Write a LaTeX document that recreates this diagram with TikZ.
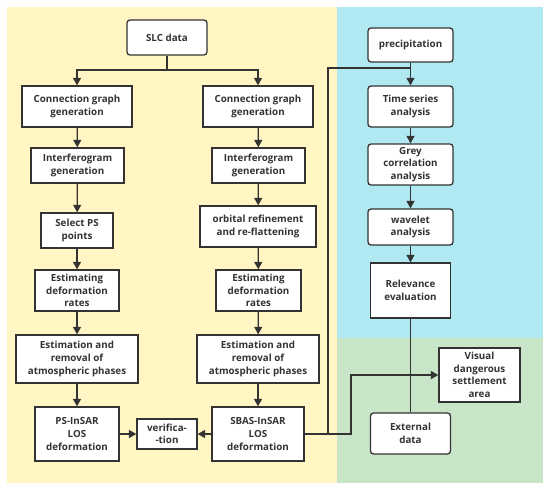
\documentclass[tikz,border=0pt]{standalone}
\usepackage{fontspec}
\setmainfont{Open Sans}
\usetikzlibrary{arrows.meta}
\definecolor{bgyellow}{HTML}{FFF6C4}
\definecolor{bgblue}{HTML}{B0E9F1}
\definecolor{bggreen}{HTML}{C8E5C8}
\definecolor{ink}{HTML}{333333}
\tikzset{
  box/.style={draw=ink, line width=1.3pt, fill=white, align=center, inner sep=1pt,
    text=ink, font=\fontsize{9.8}{12.6}\selectfont\bfseries},
  rbox/.style={box, rounded corners=3pt},
  conn/.style={draw=ink, line width=1.3pt},
  arr/.style={conn, -{Triangle[length=7.5pt,width=8pt]}},
}
\begin{document}
\begin{tikzpicture}[x=1pt,y=-1pt]
\useasboundingbox (0,0) rectangle (550,489);
\fill[white] (0,0) rectangle (550,489);
\fill[bgyellow] (7,7) rectangle (337,483);
\fill[bgblue] (337,7) rectangle (543,338);
\fill[bggreen] (337,338) rectangle (543,483);

\node[rbox, minimum width=80pt, minimum height=35pt] (slc) at (167,37.5) {SLC data};
\node[box, minimum width=110pt, minimum height=41pt] (cg1) at (77,106.5) {Connection graph\\generation};
\node[box, minimum width=110pt, minimum height=41pt] (cg2) at (258,106.5) {Connection graph\\generation};
\node[box, minimum width=93pt, minimum height=35pt] (if1) at (77.5,165.5) {Interferogram\\generation};
\node[box, minimum width=93pt, minimum height=35pt] (if2) at (258.5,165.5) {Interferogram\\generation};
\node[box, minimum width=72pt, minimum height=35pt] (sel) at (77,230.5) {Select PS\\points};
\node[box, minimum width=116pt, minimum height=41pt] (orb) at (258,226.5) {orbital refinement\\and re-flattening};
\node[box, minimum width=84pt, minimum height=41pt] (ed1) at (77,290.5) {Estimating\\deformation\\rates};
\node[box, minimum width=85pt, minimum height=41pt] (ed2) at (258.5,290.5) {Estimating\\deformation\\rates};
\node[box, minimum width=122pt, minimum height=48pt] (er1) at (77,359) {Estimation and\\removal of\\atmospheric phases};
\node[box, minimum width=122pt, minimum height=48pt] (er2) at (258,359) {Estimation and\\removal of\\atmospheric phases};
\node[box, minimum width=84pt, minimum height=54pt] (ps) at (77,434) {PS-InSAR\\LOS\\deformation};
\node[box, minimum width=60pt, minimum height=30pt] (ver) at (167,434) {verifica-\\-tion};
\node[box, minimum width=92pt, minimum height=54pt] (sbas) at (258,434) {SBAS-InSAR\\LOS\\deformation};

\node[rbox, minimum width=85pt, minimum height=34pt] (pre) at (410.5,45) {precipitation};
\node[rbox, minimum width=85pt, minimum height=41pt] (ts) at (410.5,106.5) {Time series\\analysis};
\node[rbox, minimum width=85pt, minimum height=41pt] (gc) at (410.5,164.5) {Grey\\correlation\\analysis};
\node[rbox, minimum width=85pt, minimum height=36pt] (wav) at (410.5,227) {wavelet\\analysis};
\node[box, minimum width=80pt, minimum height=55pt] (rel) at (410.5,290.5) {Relevance\\evaluation};
\node[box, minimum width=81pt, minimum height=54pt] (vis) at (479.5,375) {Visual\\dangerous\\settlement\\area};
\node[rbox, minimum width=80pt, minimum height=41pt] (ext) at (410.5,433.5) {External\\data};

\coordinate (j) at (167,70);
\coordinate (j2) at (328,434);
\coordinate (j3) at (410.5,68);
\coordinate (j4) at (351,434);

\draw[conn] (slc) -- (j);
\draw[arr] (j) -| (cg1);
\draw[arr] (j) -| (cg2);
\draw[arr] (cg1) -- (if1);
\draw[arr] (if1) -- (sel);
\draw[arr] (sel) -- (ed1);
\draw[arr] (ed1) -- (er1);
\draw[arr] (er1) -- (ps);
\draw[arr] (cg2) -- (if2);
\draw[arr] (if2) -- (orb);
\draw[arr] (orb) -- (ed2);
\draw[arr] (ed2) -- (er2);
\draw[arr] (er2) -- (sbas);
\draw[arr] (ps) -- (ver);
\draw[arr] (sbas) -- (ver);
\draw[conn] (sbas.east) -- (j2) |- (j3);
\draw[arr] (j2) -- (j4) |- (vis.west);
\draw[arr] (pre) -- (ts);
\draw[arr] (ts) -- (gc);
\draw[arr] (gc) -- (wav);
\draw[arr] (wav) -- (rel);
\draw[conn] (rel) -- (ext);
\end{tikzpicture}
\end{document}
